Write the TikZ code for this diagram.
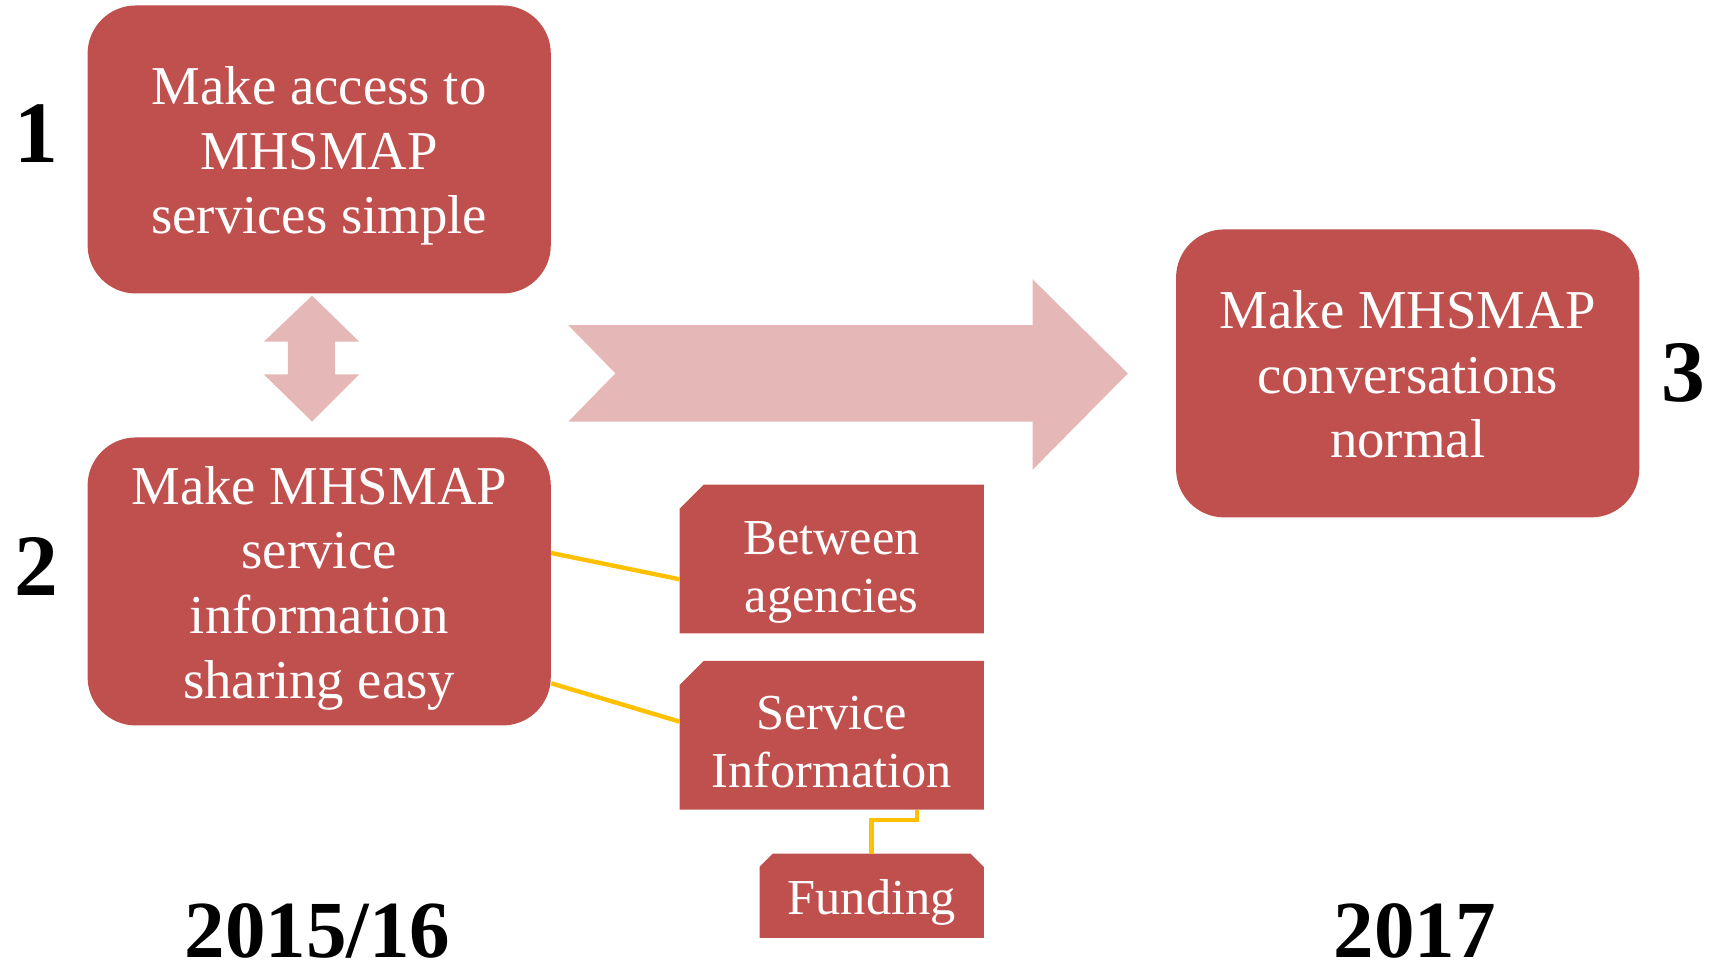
\documentclass[tikz,border=0pt]{standalone}
\usepackage{fontspec}
\setmainfont{Liberation Serif}
\definecolor{boxred}{HTML}{C0504D}
\definecolor{arrowpink}{HTML}{E5B8B7}
\definecolor{linkyellow}{HTML}{FFC000}
\tikzset{
  mainbox/.style={fill=boxred, draw=none, rounded corners=22pt, minimum width=211.5pt, minimum height=131.5pt, inner sep=0pt},
  maintext/.style={align=center, text=white, inner sep=0pt, font=\fontsize{25}{29.5}\selectfont},
  subbox/.style={draw=none, fill=none, minimum width=138.5pt, minimum height=67.5pt, inner sep=0pt},
  fundbox/.style={draw=none, fill=none, minimum width=102pt, minimum height=38pt, inner sep=0pt},
  subtext/.style={align=center, text=white, inner sep=0pt, font=\fontsize{23}{26.5}\selectfont},
  numlabel/.style={font=\fontsize{40}{42}\selectfont\bfseries, text=black, inner sep=0pt},
  yearlabel/.style={font=\fontsize{37}{40}\selectfont\bfseries, text=black, inner sep=0pt},
  link/.style={draw=linkyellow, line width=2pt},
  blockarrow/.style={fill=arrowpink, draw=none},
  snipfill/.style={fill=boxred, draw=none}
}
\begin{document}
\begin{tikzpicture}[x=0.5pt,y=-0.5pt]
\useasboundingbox (0,0) rectangle (1568,886);
% block arrows
\fill[blockarrow] (285,270) -- (328,312) -- (306,312) -- (306,342) -- (328,342) -- (285,385) -- (241,342) -- (263,342) -- (263,312) -- (241,312) -- cycle;
\fill[blockarrow] (519,297) -- (943,297) -- (943,255) -- (1030,341) -- (943,429) -- (943,385) -- (519,385) -- (562,341) -- cycle;
% main boxes
\node[mainbox] (b1) at (291.5,136.5) {};
\node[maintext] (b1t) at ([yshift=-3pt]b1.center) {Make access to\\MHSMAP\\services simple};
\node[mainbox] (b2) at (291.5,531) {};
\node[maintext] (b2t) at ([yshift=-3pt]b2.center) {Make MHSMAP\\service\\information\\sharing easy};
\node[mainbox] (b3) at (1285.5,341) {};
\node[maintext] (b3t) at ([yshift=-0.5pt]b3.center) {Make MHSMAP\\conversations\\normal};
% sub boxes
\node[subbox] (ba) at (759.5,510.5) {};
\fill[snipfill] (ba.south west) -- ([yshift=-11pt]ba.north west) -- ([xshift=11pt]ba.north west) -- (ba.north east) -- (ba.south east) -- cycle;
\node[subtext] (bat) at ([yshift=-6pt]ba.center) {Between\\agencies};
\node[subbox] (si) at (759.5,671.5) {};
\fill[snipfill] (si.south west) -- ([yshift=-11pt]si.north west) -- ([xshift=11pt]si.north west) -- (si.north east) -- (si.south east) -- cycle;
\node[subtext] (sit) at ([yshift=-3pt]si.center) {Service\\Information};
\node[fundbox] (fu) at (796,818) {};
\fill[snipfill] (fu.south west) -- ([yshift=-6pt]fu.north west) -- ([xshift=6pt]fu.north west) -- ([xshift=-6pt]fu.north east) -- ([yshift=-6pt]fu.north east) -- (fu.south east) -- cycle;
\node[subtext] (fut) at ([yshift=-3pt]fu.center) {Funding};
% links
\draw[link] ([yshift=13pt]b2.east) -- ([yshift=-9.25pt]ba.west);
\draw[link] ([yshift=-46.5pt]b2.east) -- ([yshift=6.25pt]si.west);
\coordinate (siout) at ([xshift=39pt]si.south);
\coordinate (fuin) at (fu.north);
\draw[link] (siout) -- ++(0,9.5) -| (fuin);
% numbers
\node[numlabel] (n1) at (33,122) {1};
\node[numlabel] (n2) at (33,517) {2};
\node[numlabel] (n3) at (1537,341) {3};
\node[yearlabel] (y1) at (290,850) {2015/16};
\node[yearlabel] (y2) at (1292,850) {2017};
\end{tikzpicture}
\end{document}
